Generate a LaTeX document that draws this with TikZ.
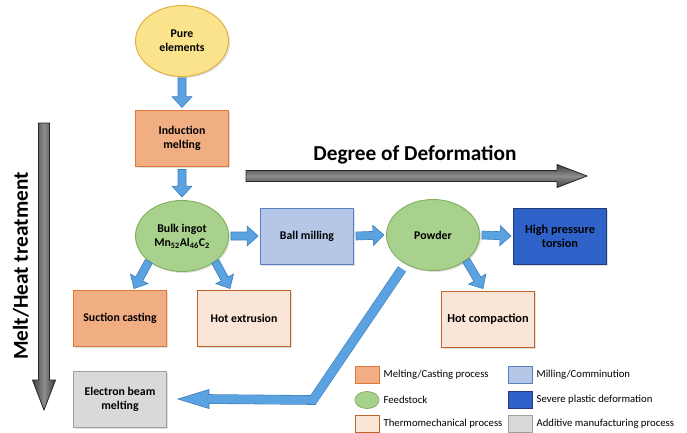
\documentclass[tikz,border=0pt]{standalone}
\usepackage{fontspec}
\setmainfont{Carlito}
\usepackage{tikz}
\usetikzlibrary{calc,positioning,shapes.geometric,shadows}
\definecolor{rawfill}{HTML}{FBE38C}
\definecolor{rawline}{HTML}{DDAE3C}
\definecolor{meltfill}{HTML}{F1AE82}
\definecolor{meltline}{HTML}{DF7838}
\definecolor{stockfill}{HTML}{A9D18E}
\definecolor{stockline}{HTML}{7FAF5B}
\definecolor{millfill}{HTML}{B4C7E7}
\definecolor{millline}{HTML}{5A7EC0}
\definecolor{spdfill}{HTML}{2F62C9}
\definecolor{spdline}{HTML}{1F3D7A}
\definecolor{thermofill}{HTML}{FBE5D6}
\definecolor{thermoline}{HTML}{C0622A}
\definecolor{addfill}{HTML}{D9D9D9}
\definecolor{addline}{HTML}{A0A0A0}
\definecolor{arrfill}{HTML}{5BA3E0}
\definecolor{arrline}{HTML}{3D7DBF}
\tikzset{
  shaftw/.store in=\shaftw, headw/.store in=\headw, headl/.store in=\headl,
  shaftw=4pt, headw=10pt, headl=11pt,
  procbox/.style={draw,line width=0.9pt,minimum width=93pt,minimum height=56pt,align=center,inner sep=2pt,
    font=\bfseries\fontsize{11.8}{14}\selectfont,drop shadow={opacity=0.25,shadow xshift=1.5pt,shadow yshift=-1.5pt}},
  stockell/.style={procbox,ellipse,minimum width=93pt,minimum height=71pt},
  raw/.style={fill=rawfill,draw=rawline},
  melt/.style={fill=meltfill,draw=meltline},
  stock/.style={fill=stockfill,draw=stockline},
  mill/.style={fill=millfill,draw=millline},
  spd/.style={fill=spdfill,draw=spdline},
  thermo/.style={fill=thermofill,draw=thermoline},
  additive/.style={fill=addfill,draw=addline},
  barr/.style={draw=arrline,fill=arrfill,line width=0.6pt,line join=miter,to path={
    let \p1=(\tikztostart), \p2=(\tikztotarget), \p3=($(\p2)!\headl!(\p1)$) in
    ($(\p1)!\shaftw!90:(\p2)$) -- ($(\p3)!\shaftw!90:(\p2)$) -- ($(\p3)!\headw!90:(\p2)$) -- (\p2)
    -- ($(\p3)!\headw!-90:(\p2)$) -- ($(\p3)!\shaftw!-90:(\p2)$) -- ($(\p1)!\shaftw!-90:(\p2)$) -- cycle}},
  darr/.style={barr,draw=black!85,line width=0.8pt,shaftw=5.5pt,headw=11.5pt,headl=30pt},
  legsw/.style={draw,line width=0.8pt,minimum width=24pt,minimum height=17pt,inner sep=0pt},
  legtxt/.style={font=\fontsize{10.7}{12}\selectfont,inner sep=0pt},
  axtxt/.style={font=\bfseries\fontsize{21.3}{23}\selectfont},
}

\begin{document}
\begin{tikzpicture}[x=1pt,y=-1pt]
\useasboundingbox (0,0) rectangle (687,432);
\node[stockell,raw] (pe) at (182,41) {Pure\\elements};
\node[procbox,melt] (im) at (182,138) {Induction\\melting};
\node[stockell,stock] (bi) at (182,236) {Bulk ingot\\Mn\textsubscript{52}Al\textsubscript{46}C\textsubscript{2}};
\node[procbox,mill] (bm) at (307,236) {Ball milling};
\node[stockell,stock] (pw) at (433,235) {Powder};
\node[procbox,spd,font=\bfseries\fontsize{12.3}{14.5}\selectfont] (hpt) at (560,236) {High pressure\\torsion};
\node[procbox,melt] (sc) at (120,318) {Suction casting};
\node[procbox,thermo] (he) at (244,318) {Hot extrusion};
\node[procbox,thermo,font=\bfseries\fontsize{12.3}{14.5}\selectfont] (hc) at (488,319) {Hot compaction};
\node[procbox,additive] (ebm) at (120,399) {Electron beam\\melting};

\draw[barr] ([yshift=-1pt]pe.south) to ([yshift=2pt]im.north);
\draw[barr] ([yshift=-3pt]im.south) to ([yshift=3pt]bi.north);
\draw[barr] ([xshift=2pt]bi.east) to ([xshift=-2pt]bm.west);
\draw[barr] ([xshift=2pt]bm.east) to ([xshift=-2pt]pw.west);
\draw[barr] ([xshift=2pt]pw.east) to ([xshift=-2pt]hpt.west);
\draw[barr] (bi.south west) to ([xshift=14pt,yshift=1pt]sc.north);
\draw[barr] (bi.south east) to ([xshift=-14pt,yshift=1pt]he.north);
\draw[barr] (pw.south east) to ([xshift=-5pt,yshift=2pt]hc.north);

\coordinate (bend) at (313,400);
\coordinate (ebmtip) at ([xshift=11pt]ebm.east);
\draw[barr] (ebmtip) -- ++(31,-9.5) -- ++(0,19) -- cycle;
\draw[draw=arrline,double=arrfill,double distance=8.4pt,line width=0.6pt,line join=miter]
  ([xshift=-31pt,yshift=2pt]pw.south) -- (bend) -- ($(ebmtip)+(30,0)$);

\coordinate (mtop) at (44,123);
\coordinate (mbot) at (44,410);
\draw[darr,left color=black!75,right color=black!75,middle color=black!45] (mtop) to (mbot);
\node[axtxt,rotate=90] (mlab) at (21,266) {Melt/Heat treatment};
\coordinate (dleft) at (246,176);
\coordinate (dright) at (587,176);
\draw[darr,top color=black!75,bottom color=black!75,middle color=black!45] (dleft) to (dright);
\node[axtxt] (dlab) at (415,155) {Degree of Deformation};

\foreach \n/\s/\c/\x/\y in {a/rectangle/melt/367/375,b/ellipse/stock/367/400,c/rectangle/thermo/367/424,
  d/rectangle/mill/520/375,e/rectangle/spd/520/400,f/rectangle/additive/520/424}
  \node[legsw,\s,\c] (lg\n) at (\x,\y) {};
\foreach \n/\t in {a/{Melting/Casting process},b/Feedstock,c/Thermomechanical process,
  d/{Milling/Comminution},e/Severe plastic deformation,f/Additive manufacturing process}
  \node[legtxt,right=4pt of lg\n] (lt\n) {\t};
\end{tikzpicture}
\end{document}
